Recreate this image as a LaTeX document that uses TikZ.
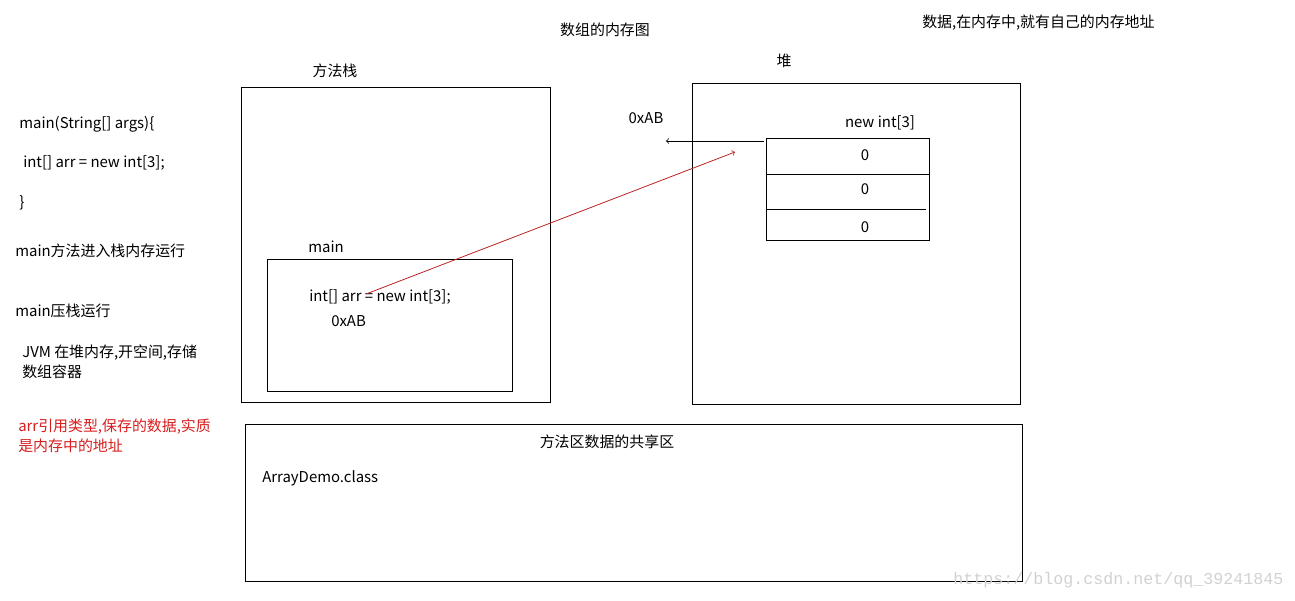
\documentclass[tikz,border=0pt]{standalone}
\usepackage{fontspec}
\setmainfont{Noto Sans CJK SC}
\newfontfamily\markfont{Liberation Mono}
\usetikzlibrary{positioning}

\definecolor{linkred}{RGB}{185,35,35}
\definecolor{notered}{RGB}{215,30,30}

\begin{document}
\begin{tikzpicture}[x=0.75pt,y=-0.75pt,
  box/.style={draw,line width=0.75pt,inner sep=0pt},
  txt/.style={inner sep=0pt,anchor=west,font=\fontsize{11.2}{15}\selectfont},
  ctxt/.style={inner sep=0pt,font=\fontsize{11.2}{15}\selectfont},
  ref/.style={->,line width=0.6pt}]
\useasboundingbox (0,0) rectangle (1295,600);

% titles
\node [ctxt] (title) at (605,30) {数组的内存图};
\node [txt] (hint) at (922,23) {数据,在内存中,就有自己的内存地址};

% left notes
\node [txt] (n1) at (19,124) {main(String[] args)\{};
\node [txt] (n2) at (23,163) {int[] arr = new int[3];};
\node [txt] (n3) at (19,203) {\}};
\node [txt] (n4) at (15,251) {main方法进入栈内存运行};
\node [txt] (n5) at (15,311) {main压栈运行};
\node [txt,align=left] (n6) at (22,362) {JVM 在堆内存,开空间,存储\\数组容器};
\node [txt,align=left,text=notered] (n7) at (18,436) {arr引用类型,保存的数据,实质\\是内存中的地址};

% stack
\node [box,minimum width=309*0.75pt,minimum height=315*0.75pt] (stack) at (395.5,244.5) {};
\node [ctxt] (stacklbl) at (335,71) {方法栈};
\node [box,minimum width=245*0.75pt,minimum height=132*0.75pt] (mainbox) at (389.5,325) {};
\node [ctxt] (mainlbl) at (326,247) {main};
\node [txt] (code) at (309,297) {int[] arr = new int[3];};
\node [txt] (addr) at (331,321) {0xAB};
\coordinate (eq) at (366,294);

% heap
\node [box,minimum width=328*0.75pt,minimum height=321*0.75pt] (heap) at (856,243.5) {};
\node [ctxt] (heaplbl) at (784,61) {堆};
\node [ctxt] (arrlbl) at (880,123) {new int[3]};
\node [box,minimum width=163*0.75pt,minimum height=102*0.75pt] (arr) at (847.5,189) {};
\draw [line width=0.75pt] (766,174) -- (930,174);
\draw [line width=0.75pt] (766,209) -- (926,209);
\node [ctxt] (c0) at (865,155) {0};
\node [ctxt] (c1) at (865,189) {0};
\node [ctxt] (c2) at (865,227) {0};
\node [ctxt] (heapaddr) at (646,118) {0xAB};
\coordinate (arrin) at (764,141);
\coordinate (arrout) at (666,141);
\coordinate (arrhit) at (735,152);

% method area
\node [box,minimum width=777*0.75pt,minimum height=157*0.75pt] (area) at (633.5,502.5) {};
\node [ctxt] (arealbl) at (607,442) {方法区数据的共享区};
\node [txt] (cls) at (262,478) {ArrayDemo.class};

% references
\draw [ref] (arrin) -- (arrout);
\draw [ref,linkred] (eq) -- (arrhit);

\node [txt,font=\markfont\fontsize{12.5}{12}\selectfont,text=black!18] (mark) at (953,580) {https://blog.csdn.net/qq\_39241845};
\end{tikzpicture}
\end{document}
